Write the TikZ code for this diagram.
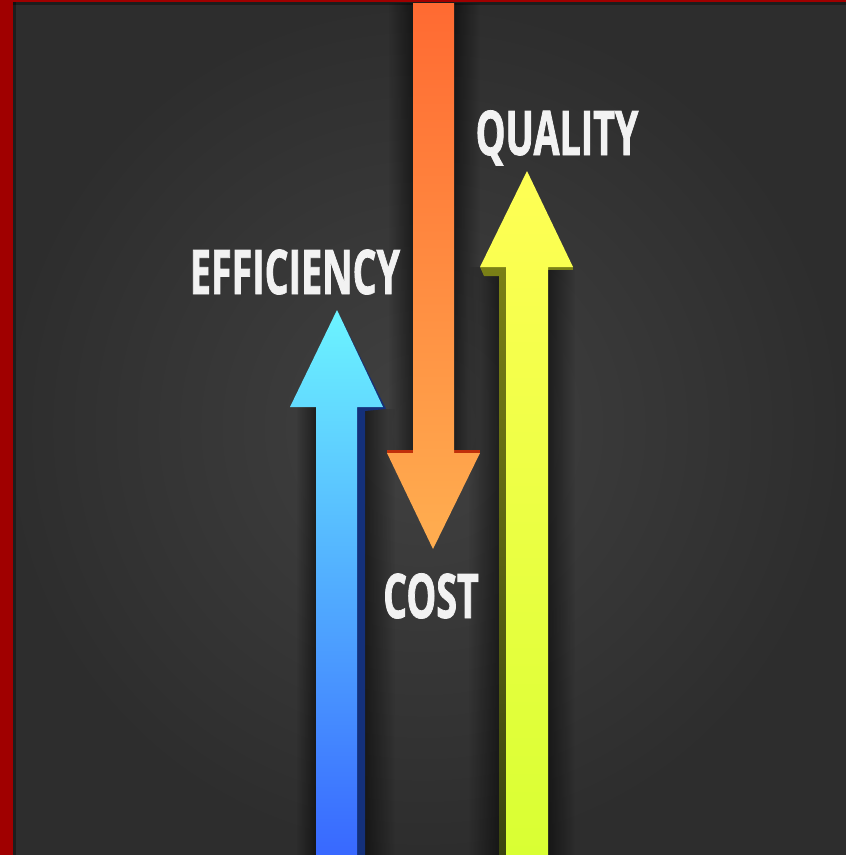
\documentclass[tikz,border=0pt]{standalone}
\usepackage{fontspec}
\newfontfamily\signfont[FakeStretch=0.61, FakeBold=1.2]{Open Sans}
\usetikzlibrary{fadings}

\definecolor{frame}{HTML}{A00000}
\definecolor{boardlight}{HTML}{414141}
\definecolor{boarddark}{HTML}{2D2D2D}
\definecolor{signwhite}{HTML}{F2F2F2}
\definecolor{bluetop}{HTML}{6CF4FF}
\definecolor{bluemid}{HTML}{56B8FF}
\definecolor{bluebottom}{HTML}{3868FF}
\definecolor{blueside}{HTML}{14307A}
\definecolor{orangetop}{HTML}{FF6A32}
\definecolor{orangebottom}{HTML}{FFAE50}
\definecolor{orangeside}{HTML}{C0300A}
\definecolor{yellowtop}{HTML}{FFFF55}
\definecolor{yellowbottom}{HTML}{D9FF33}
\definecolor{yellowsidetop}{HTML}{7A8016}
\definecolor{yellowsidebottom}{HTML}{3A4410}

\tikzset{
	sign/.style   = {font=\signfont\bfseries\fontsize{61.6}{62}\selectfont,
		text=signwhite, inner sep=0pt, anchor=base},
	shadowstrip/.style = {fill=black, opacity=0.5, path fading=#1},
	blue arrow/.style   = {top color=bluetop, middle color=bluemid, bottom color=bluebottom},
	orange arrow/.style = {top color=orangetop, bottom color=orangebottom},
	yellow arrow/.style = {top color=yellowtop, bottom color=yellowbottom}
}

\begin{document}
\begin{tikzpicture}[x=1pt, y=-1pt]
\useasboundingbox (0,0) rectangle (846,855);

% the board and its red frame
\shade[inner color=boardlight, outer color=boarddark] (0,0) rectangle (846,855);
\fill[frame] (0,0) rectangle (13,855);
\fill[frame] (0,0) rectangle (846,2);
\fill[black, opacity=0.35] (13,2) rectangle (16,855);
\fill[black, opacity=0.35] (13,2) rectangle (846,5);

% soft shadows beside the arrows
\fill[shadowstrip=east] (365,409) rectangle (395,855);
\fill[shadowstrip=west] (296,407) rectangle (316,855);
\fill[shadowstrip=west] (388,3) rectangle (413,450);
\fill[shadowstrip=east] (454,3) rectangle (480,450);
\fill[shadowstrip=west] (468,267) rectangle (499,855);
\fill[shadowstrip=east] (548,270) rectangle (575,855);

% blue arrow, efficiency
\fill[blueside] (337,310) -- (386,409) -- (365,411) -- (365,855) -- (357,855)
	-- (357,407) -- (383,407) -- cycle;
\shade[blue arrow] (316,855) -- (316,407) -- (290,407) -- (337,310) -- (383,407)
	-- (357,407) -- (357,855) -- cycle;

% orange arrow, cost
\fill[orangeside] (387,450) rectangle (413,453);
\fill[orangeside] (454,450) rectangle (480,453);
\shade[orange arrow] (413,3) -- (413,453) -- (387,453) -- (433,549) -- (480,453)
	-- (454,453) -- (454,3) -- cycle;

% yellow arrow, quality
\shade[top color=yellowsidetop, bottom color=yellowsidebottom] (480,267) -- (506,267)
	-- (506,855) -- (499,855) -- (499,276) -- (484,276) -- cycle;
\fill[yellowsidetop] (548,267) rectangle (573,270);
\shade[yellow arrow] (506,855) -- (506,267) -- (480,267) -- (527,171) -- (573,267)
	-- (548,267) -- (548,855) -- cycle;

% the labels
\node[sign] (efficiency) at (295,294) {EFFICIENCY};
\node[sign] (quality) at (557,155) {QUALITY};
\node[sign] (cost) at (431,618) {COST};

\end{tikzpicture}
\end{document}
